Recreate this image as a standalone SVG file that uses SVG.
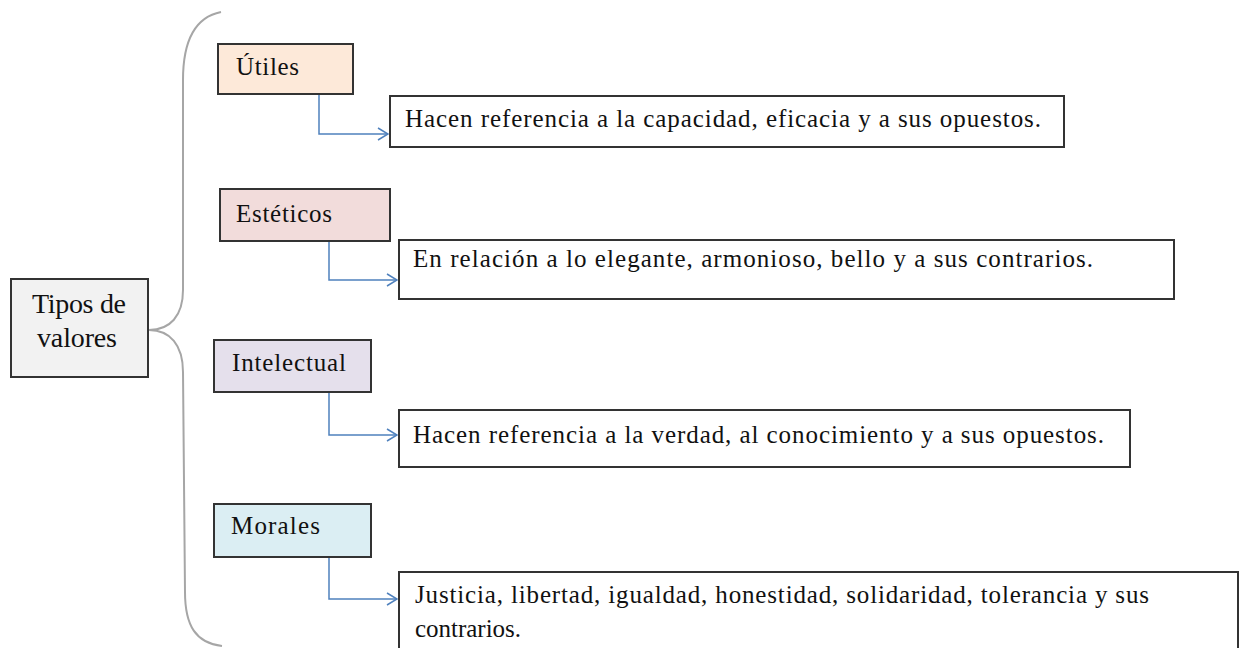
<svg xmlns="http://www.w3.org/2000/svg" width="1243" height="648" viewBox="0 0 1243 648">
<style>
.box{stroke:#333;stroke-width:2}
.t{font-family:"Liberation Serif","Times New Roman",serif;font-size:25px;fill:#111}
.c{fill:none;stroke:#4f81bd;stroke-width:1.5}
</style>
<defs>
<marker id="ah" viewBox="0 0 12 14" refX="11" refY="7" markerWidth="12" markerHeight="14" markerUnits="userSpaceOnUse" orient="auto">
<path d="M1,1 L11,7 L1,13" fill="none" stroke="#4f81bd" stroke-width="1.5"/>
</marker>
</defs>
<rect width="1243" height="648" fill="#fff"/>
<g id="brace">
<path d="M221,12 C196,17 183,40 183,80 L183,290 C183,316 170,330 149,330 C170,330 183,345 183,372 L185,592 C185,626 196,643 222,646" fill="none" stroke="#a6a6a6" stroke-width="2"/>
</g>
<g id="connectors">
<path class="c" d="M319,94 V134 H388" marker-end="url(#ah)"/>
<path class="c" d="M329,241 V280 H397" marker-end="url(#ah)"/>
<path class="c" d="M329,392 V435 H397" marker-end="url(#ah)"/>
<path class="c" d="M329,557 V599 H397" marker-end="url(#ah)"/>
</g>
<g id="root">
<rect class="box" x="11" y="279" width="137" height="98" fill="#f2f2f2"/>
<text class="t" x="32" y="313" style="font-size:28px" textLength="94" lengthAdjust="spacing">Tipos de</text>
<text class="t" x="37" y="347" style="font-size:28px" textLength="80" lengthAdjust="spacing">valores</text>
</g>
<g id="utiles">
<rect class="box" x="218" y="44" width="135" height="50" fill="#fde9d9"/>
<text class="t" x="236" y="75" textLength="63" lengthAdjust="spacing">Útiles</text>
</g>
<g id="desc-utiles">
<rect class="box" x="390" y="96" width="674" height="51" fill="#fff"/>
<text class="t" x="405" y="127" textLength="636" lengthAdjust="spacing">Hacen referencia a la capacidad, eficacia y a sus opuestos.</text>
</g>
<g id="esteticos">
<rect class="box" x="220" y="189" width="170" height="52" fill="#f2dcdb"/>
<text class="t" x="236" y="222" textLength="96" lengthAdjust="spacing">Estéticos</text>
</g>
<g id="desc-esteticos">
<rect class="box" x="399" y="240" width="775" height="59" fill="#fff"/>
<text class="t" x="413" y="267" textLength="680" lengthAdjust="spacing">En relación a lo elegante, armonioso, bello y a sus contrarios.</text>
</g>
<g id="intelectual">
<rect class="box" x="214" y="340" width="157" height="52" fill="#e5e0ec"/>
<text class="t" x="232" y="371" textLength="114" lengthAdjust="spacing">Intelectual</text>
</g>
<g id="desc-intelectual">
<rect class="box" x="399" y="410" width="731" height="57" fill="#fff"/>
<text class="t" x="413" y="443" textLength="691" lengthAdjust="spacing">Hacen referencia a la verdad, al conocimiento y a sus opuestos.</text>
</g>
<g id="morales">
<rect class="box" x="214" y="504" width="157" height="53" fill="#dbeef3"/>
<text class="t" x="231" y="534" textLength="89" lengthAdjust="spacing">Morales</text>
</g>
<g id="desc-morales">
<rect class="box" x="399" y="572" width="839" height="80" fill="#fff"/>
<text class="t" x="415" y="603" textLength="734" lengthAdjust="spacing">Justicia, libertad, igualdad, honestidad, solidaridad, tolerancia y sus</text>
<text class="t" x="415" y="637" textLength="106" lengthAdjust="spacing">contrarios.</text>
</g>
</svg>
